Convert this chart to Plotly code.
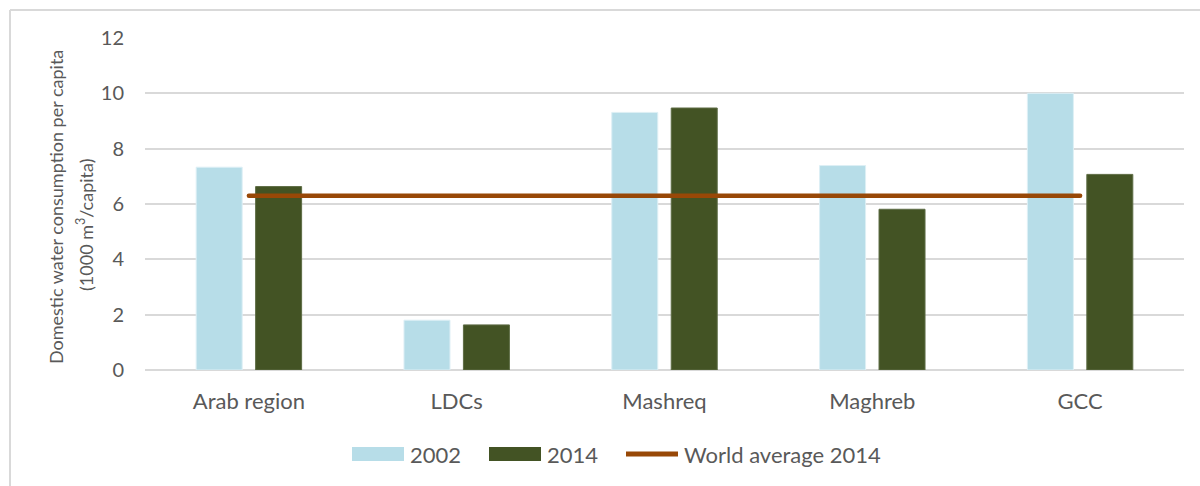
import plotly.graph_objects as go

categories = ["Arab region", "LDCs", "Mashreq", "Maghreb", "GCC"]
values_2002 = [7.33, 1.80, 9.31, 7.39, 10.0]
values_2014 = [6.63, 1.63, 9.47, 5.81, 7.07]
world_avg_2014 = 6.3
y_ticks = [0, 2, 4, 6, 8, 10, 12]

FONT = "Lato"
TXT = "#595959"
C2002 = "#B7DDE8"
C2014 = "#435324"
CLINE = "#984807"

W, H = 1200, 486
L, R, T, B = 145, 16, 38, 116
PW, PH = W - L - R, H - T - B


def px(x):
    return (x - L) / PW


def py(y):
    return (H - B - y) / PH


fig = go.Figure()
fig.add_trace(go.Bar(x=categories, y=values_2002, name="2002",
                     marker=dict(color=C2002, line=dict(color="#DDEFF5", width=1))))
fig.add_trace(go.Bar(x=categories, y=values_2014, name="2014",
                     marker=dict(color=C2014, line=dict(color="#5E6C45", width=1))))
fig.add_trace(go.Scatter(x=categories, y=[world_avg_2014] * len(categories),
                         name="World average 2014", mode="lines",
                         line=dict(color=CLINE, width=4.5)))

shapes = []
annotations = []

# chart border (top and left visible)
shapes.append(dict(type="line", xref="paper", yref="paper", x0=px(10), x1=px(1201),
                   y0=py(10), y1=py(10), line=dict(color="#D9D9D9", width=2)))
shapes.append(dict(type="line", xref="paper", yref="paper", x0=px(10), x1=px(10),
                   y0=py(10), y1=py(487), line=dict(color="#D9D9D9", width=2)))

# custom legend
leg_y = 454
shapes.append(dict(type="rect", xref="paper", yref="paper", x0=px(352), x1=px(404),
                   y0=py(447), y1=py(461), fillcolor=C2002, line=dict(width=0)))
shapes.append(dict(type="rect", xref="paper", yref="paper", x0=px(489), x1=px(541),
                   y0=py(447), y1=py(461), fillcolor=C2014, line=dict(width=0)))
shapes.append(dict(type="line", xref="paper", yref="paper", x0=px(626), x1=px(678),
                   y0=py(leg_y), y1=py(leg_y), line=dict(color=CLINE, width=5)))
for xx, txt in [(408, "2002"), (545, "2014"), (682, "World average 2014")]:
    annotations.append(dict(xref="paper", yref="paper", x=px(xx), y=py(leg_y),
                            text=txt, showarrow=False, xanchor="left", yanchor="middle",
                            font=dict(family=FONT, size=22, color=TXT)))

# y-axis title (two lines)
annotations.append(dict(xref="paper", yref="paper", x=px(56), y=py(207),
                        text="Domestic water consumption per capita",
                        showarrow=False, textangle=-90, xanchor="center", yanchor="middle",
                        font=dict(family=FONT, size=18, color=TXT)))
annotations.append(dict(xref="paper", yref="paper", x=px(85), y=py(225),
                        text="(1000 m<sup>3</sup>/capita)",
                        showarrow=False, textangle=-90, xanchor="center", yanchor="middle",
                        font=dict(family=FONT, size=18, color=TXT)))

fig.update_layout(
    width=W, height=H,
    margin=dict(l=L, r=R, t=T, b=B, pad=0),
    paper_bgcolor="white", plot_bgcolor="white",
    barmode="group", bargap=0.428, bargroupgap=0.226,
    showlegend=False,
    font=dict(family=FONT, color=TXT),
    shapes=shapes, annotations=annotations,
    xaxis=dict(showgrid=False, showline=False, ticks="", zeroline=False,
               tickfont=dict(family=FONT, size=22, color=TXT), ticklabelstandoff=16),
    yaxis=dict(range=[0, 12], tickvals=y_ticks, showgrid=True, gridcolor="#D9D9D9",
               gridwidth=1.5, zeroline=True, zerolinecolor="#D9D9D9", zerolinewidth=1.5,
               showline=False, ticks="", ticklabelstandoff=20,
               tickfont=dict(family=FONT, size=20, color=TXT)),
)

fig.write_html(
    "out.html",
    config={"displayModeBar": False},
    post_script=(
        "document.body.style.margin='0px';document.body.style.overflow='hidden';"
        "document.querySelectorAll('.scatterlayer path.js-line').forEach("
        "function(p){p.style.strokeLinecap='round';});"
    ),
)
